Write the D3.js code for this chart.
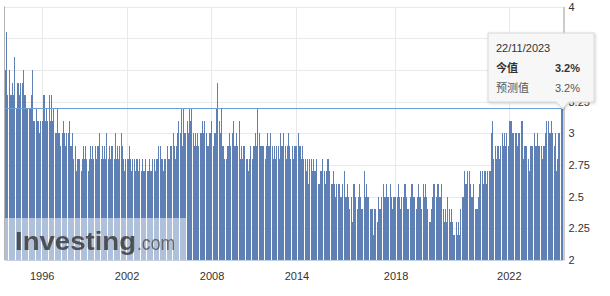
<!DOCTYPE html>
<html>
<head>
<meta charset="utf-8">
<script src="https://cdn.jsdelivr.net/npm/d3@7/dist/d3.min.js"></script>
<style>
  body { margin: 0; background: #fff; }
  svg { display: block; font-family: "Liberation Sans", Arial, sans-serif; }
</style>
</head>
<body>
<div id="chart"></div>
<script>
// monthly releases up to 2014, prelim + final from 2015 on
const v1993 = [3.5, 3.8, 3.3, 3.5, 3.3, 3.3, 3.4];
const v1994 = [3.3, 3.6, 3.2, 3.4, 3.4, 3.3, 3.4, 3.4, 3.5, 3.3, 3.3, 3.2];
const v1995 = [3.2, 3.2, 3.2, 3.3, 3.5, 3.1, 3.1, 3.2, 3.1, 3.1, 3.0, 3.1];
const v1996 = [3.1, 3.3, 3.3, 3.1, 3.2, 3.1, 3.3, 3.1, 3.3, 3.1, 3.2, 3.0];
const v1997 = [3.0, 3.2, 3.0, 3.0, 2.9, 3.0, 3.1, 3.0, 2.9, 3.0, 3.0, 3.1];
const v1998 = [2.9, 2.9, 3.0, 2.8, 2.9, 2.7, 2.8, 2.8, 2.8, 2.7, 2.8, 2.9];
const v1999 = [2.8, 2.9, 2.8, 2.7, 2.8, 2.9, 2.8, 2.9, 2.8, 2.9, 2.8, 2.9];
const v2000 = [2.9, 3.0, 2.8, 2.9, 2.8, 2.9, 2.8, 3.0, 2.8, 2.9, 2.8, 2.9];
const v2001 = [2.9, 2.8, 3.0, 2.8, 2.9, 2.8, 2.9, 3.0, 2.9, 2.8, 2.7, 2.8];
const v2002 = [2.8, 2.8, 2.9, 2.8, 2.7, 2.8, 2.8, 2.7, 2.8, 2.8, 2.7, 2.8];
const v2003 = [2.7, 2.8, 2.7, 2.7, 2.8, 2.7, 2.7, 2.8, 2.7, 2.7, 2.8, 2.8];
const v2004 = [2.7, 2.8, 2.8, 2.9, 2.9, 2.8, 2.8, 2.7, 2.8, 2.8, 2.9, 2.8];
const v2005 = [2.8, 2.9, 2.9, 3.0, 2.9, 2.8, 2.9, 3.0, 3.1, 3.0, 3.2, 2.9];
const v2006 = [3.2, 3.0, 3.0, 3.1, 3.0, 3.2, 3.1, 3.2, 3.0, 2.9, 3.0, 2.9];
const v2007 = [3.0, 2.9, 3.0, 3.0, 3.1, 3.0, 3.1, 3.0, 2.9, 2.9, 3.0, 3.0];
const v2008 = [3.1, 2.9, 3.0, 3.0, 3.2, 3.4, 3.1, 3.0, 3.2, 2.9, 2.9, 2.8];
const v2009 = [2.8, 2.9, 2.9, 3.0, 2.9, 3.0, 3.1, 2.9, 2.9, 3.0, 2.9, 3.1];
const v2010 = [2.8, 2.9, 2.8, 2.9, 2.9, 2.8, 2.8, 2.7, 2.8, 2.9, 2.8, 2.9];
const v2011 = [2.9, 3.0, 2.9, 3.2, 3.0, 2.9, 2.9, 2.9, 2.9, 2.8, 2.9, 3.0];
const v2012 = [2.9, 2.9, 3.0, 2.9, 2.8, 2.9, 2.8, 2.9, 2.9, 2.8, 3.0, 2.9];
const v2013 = [2.9, 3.0, 2.9, 2.8, 2.9, 3.0, 2.9, 2.8, 2.9, 2.8, 2.9, 2.9];
const v2014 = [2.9, 3.0, 2.9, 2.9, 2.8, 2.9, 2.8, 2.8, 2.7, 2.8, 2.6, 2.8];
const v2015 = [2.8, 2.7, 2.8, 2.7, 2.7, 2.8, 2.6, 2.6, 2.7, 2.7, 2.8, 2.7,
               2.6, 2.7, 2.8, 2.8, 2.7, 2.6, 2.6, 2.7, 2.6, 2.5, 2.6, 2.6];
const v2016 = [2.6, 2.5, 2.5, 2.6, 2.7, 2.5, 2.5, 2.6, 2.5, 2.4, 2.5, 2.3,
               2.6, 2.6, 2.5, 2.4, 2.5, 2.6, 2.5, 2.4, 2.4, 2.7, 2.5, 2.6];
const v2017 = [2.5, 2.5, 2.4, 2.4, 2.4, 2.2, 2.4, 2.4, 2.3, 2.5, 2.4, 2.4,
               2.5, 2.6, 2.5, 2.5, 2.6, 2.5, 2.5, 2.6, 2.5, 2.4, 2.5, 2.5];
const v2018 = [2.5, 2.5, 2.6, 2.5, 2.4, 2.5, 2.5, 2.6, 2.6, 2.5, 2.4, 2.4,
               2.5, 2.6, 2.6, 2.5, 2.5, 2.4, 2.5, 2.6, 2.5, 2.5, 2.4, 2.6];
const v2019 = [2.5, 2.6, 2.5, 2.4, 2.3, 2.3, 2.4, 2.5, 2.6, 2.6, 2.5, 2.6,
               2.6, 2.5, 2.5, 2.6, 2.4, 2.3, 2.4, 2.3, 2.5, 2.4, 2.3, 2.4];
const v2020 = [2.3, 2.2, 2.2, 2.3, 2.2, 2.3, 2.2, 2.4, 2.5, 2.5, 2.7, 2.6,
               2.6, 2.7, 2.7, 2.6, 2.5, 2.5, 2.6, 2.4, 2.4, 2.4, 2.5, 2.6];
const v2021 = [2.7, 2.7, 2.6, 2.7, 2.7, 2.6, 2.7, 2.7, 2.7, 3.0, 3.1, 2.8,
               2.9, 2.8, 2.9, 2.9, 2.8, 2.9, 3.0, 2.9, 3.0, 2.9, 3.0, 2.9];
const v2022 = [3.1, 3.1, 3.1, 3.0, 3.0, 3.0, 3.0, 2.9, 3.0, 3.0, 3.1, 3.1,
               2.8, 2.9, 2.9, 2.9, 2.8, 2.7, 2.9, 2.9, 2.9, 3.0, 2.9, 2.9];
const v2023 = [3.0, 2.9, 2.9, 2.9, 2.8, 2.9, 2.9, 3.0, 3.1, 3.1, 3.0,
               3.0, 3.1, 3.0, 2.9, 3.0, 2.7, 2.8, 3.0, 3.0, 3.2, 3.2];

const seriesByYear = [
    [1993, v1993], [1994, v1994], [1995, v1995], [1996, v1996], [1997, v1997],
    [1998, v1998], [1999, v1999], [2000, v2000], [2001, v2001], [2002, v2002],
    [2003, v2003], [2004, v2004], [2005, v2005], [2006, v2006], [2007, v2007],
    [2008, v2008], [2009, v2009], [2010, v2010], [2011, v2011], [2012, v2012],
    [2013, v2013], [2014, v2014], [2015, v2015], [2016, v2016], [2017, v2017],
    [2018, v2018], [2019, v2019], [2020, v2020], [2021, v2021], [2022, v2022],
    [2023, v2023]
];

const tickYears = [1996, 2002, 2008, 2014, 2018, 2022];
const yTicks = [2, 2.25, 2.5, 2.75, 3, 3.25, 3.5, 3.75, 4];
// these two labels sit under the tooltip in the original
const hiddenYLabels = [3.5, 3.75];

const latestDate = "22/11/2023";
const latestActual = 3.2;
const latestForecast = 3.2;

const width = 610;
const height = 296;
const plotLeft = 5, plotRight = 563, plotTop = 6.5, plotBottom = 260;

// one row per release
const rows = [];
seriesByYear.forEach(([year, vals]) => {
    const twice = vals.length > 12;
    const firstMonth = twice ? 1 : 13 - vals.length;
    vals.forEach((v, i) => {
        const month = twice ? firstMonth + Math.floor(i / 2) : firstMonth + i;
        const key = year + '-' + month + (twice ? (i % 2 ? 'b' : 'a') : '');
        rows.push({ key, year, month, value: v });
    });
});

const x = d3.scaleBand()
    .domain(rows.map(d => d.key))
    .range([plotLeft, plotRight])
    .padding(0);

const y = d3.scaleLinear()
    .domain([2, 4])
    .range([plotBottom, plotTop]);

const svg = d3.select('#chart')
    .append('svg')
    .attr('width', width)
    .attr('height', height);

// rejilla
const tickKeys = tickYears.map(yr => rows.find(d => d.year === yr && d.month === 1).key);

svg.append('g')
    .selectAll('line')
    .data(yTicks)
    .enter()
    .append('line')
    .attr('x1', plotLeft)
    .attr('x2', plotRight)
    .attr('y1', d => Math.round(y(d)) + 0.5)
    .attr('y2', d => Math.round(y(d)) + 0.5)
    .attr('stroke', '#e9e9e9');

svg.append('g')
    .selectAll('line')
    .data(tickKeys)
    .enter()
    .append('line')
    .attr('x1', d => Math.round(x(d)) + 0.5)
    .attr('x2', d => Math.round(x(d)) + 0.5)
    .attr('y1', plotTop)
    .attr('y2', plotBottom)
    .attr('stroke', '#e9e9e9');

// barras
svg.append('g')
    .selectAll('rect')
    .data(rows)
    .enter()
    .append('rect')
    .attr('x', d => x(d.key))
    .attr('width', 1)
    .attr('y', d => y(d.value))
    .attr('height', d => y(2) - y(d.value))
    .attr('fill', '#5f80b5')
    .attr('shape-rendering', 'crispEdges');

// borde izquierdo y base
svg.append('line')
    .attr('x1', 4.5).attr('x2', 4.5)
    .attr('y1', plotTop).attr('y2', plotBottom)
    .attr('stroke', '#b5b5b5');

svg.append('line')
    .attr('x1', plotLeft).attr('x2', plotRight)
    .attr('y1', plotBottom + 0.5).attr('y2', plotBottom + 0.5)
    .attr('stroke', '#c3d1e3');

// linea del ultimo valor
svg.append('line')
    .attr('x1', plotLeft).attr('x2', plotRight)
    .attr('y1', Math.round(y(latestActual)) + 0.5)
    .attr('y2', Math.round(y(latestActual)) + 0.5)
    .attr('stroke', '#6a9fd8');

// watermark
svg.append('rect')
    .attr('x', plotLeft).attr('y', 218)
    .attr('width', 182).attr('height', plotBottom - 218)
    .attr('fill', '#fff')
    .attr('opacity', 0.5);

svg.append('text')
    .attr('x', 15).attr('y', 250)
    .attr('font-size', 26)
    .attr('font-weight', 'bold')
    .attr('textLength', 121)
    .attr('lengthAdjust', 'spacingAndGlyphs')
    .attr('fill', '#3c3c3c')
    .attr('opacity', 0.85)
    .text('Investing');

svg.append('text')
    .attr('x', 137).attr('y', 250)
    .attr('font-size', 20)
    .attr('textLength', 38)
    .attr('lengthAdjust', 'spacingAndGlyphs')
    .attr('fill', '#555')
    .attr('opacity', 0.85)
    .text('.com');

// ejes
const xAxis = d3.axisBottom(x)
    .tickValues(tickKeys)
    .tickSize(0)
    .tickPadding(12)
    .tickFormat(k => k.slice(0, 4));

const gx = svg.append('g')
    .attr('transform', `translate(0, ${plotBottom})`)
    .call(xAxis);
gx.select('.domain').remove();
gx.selectAll('text')
    .attr('font-size', 11)
    .attr('font-family', '"Liberation Sans", Arial, sans-serif')
    .attr('fill', '#333');

const yAxis = d3.axisRight(y)
    .tickValues(yTicks.filter(t => !hiddenYLabels.includes(t)))
    .tickSize(0)
    .tickSizeOuter(0)
    .tickPadding(5)
    .tickFormat(d3.format('~g'));

const gy = svg.append('g')
    .attr('transform', `translate(${plotRight + 0.5}, 0)`)
    .call(yAxis);
gy.select('.domain').attr('stroke', '#999');
gy.selectAll('text')
    .attr('font-size', 11)
    .attr('font-family', '"Liberation Sans", Arial, sans-serif')
    .attr('fill', '#333');

// tooltip
const defs = svg.append('defs');
const f = defs.append('filter').attr('id', 'shadow')
    .attr('x', '-20%').attr('y', '-20%').attr('width', '140%').attr('height', '140%');
f.append('feDropShadow')
    .attr('dx', 1).attr('dy', 1).attr('stdDeviation', 1.5)
    .attr('flood-color', '#000').attr('flood-opacity', 0.18);

const tip = svg.append('g').attr('filter', 'url(#shadow)');
const tipX = 488, tipY = 33, tipW = 106, tipH = 69;
const px = Math.round(x(rows[rows.length - 1].key)) + 0.5;
tip.append('path')
    .attr('d', `M${tipX},${tipY} H${tipX + tipW} V${tipY + tipH} H${px + 6} L${px},${tipY + tipH + 7} L${px - 6},${tipY + tipH} H${tipX} Z`)
    .attr('fill', '#f7f7f7')
    .attr('stroke', '#d8d8d8');

const tipText = svg.append('g')
    .attr('font-size', 11)
    .attr('fill', '#333');

tipText.append('text')
    .attr('x', 496).attr('y', 52)
    .text(latestDate);

tipText.append('text')
    .attr('x', 496).attr('y', 72)
    .attr('font-family', '"Noto Sans CJK SC", sans-serif')
    .attr('font-weight', 'bold')
    .text('今值');

tipText.append('text')
    .attr('x', 580).attr('y', 72)
    .attr('text-anchor', 'end')
    .attr('font-weight', 'bold')
    .text(latestActual.toFixed(1) + '%');

tipText.append('text')
    .attr('x', 496).attr('y', 92)
    .attr('font-family', '"Noto Sans CJK SC", sans-serif')
    .attr('fill', '#555')
    .text('预测值');

tipText.append('text')
    .attr('x', 580).attr('y', 92)
    .attr('text-anchor', 'end')
    .attr('fill', '#555')
    .text(latestForecast.toFixed(1) + '%');
</script>
</body>
</html>
